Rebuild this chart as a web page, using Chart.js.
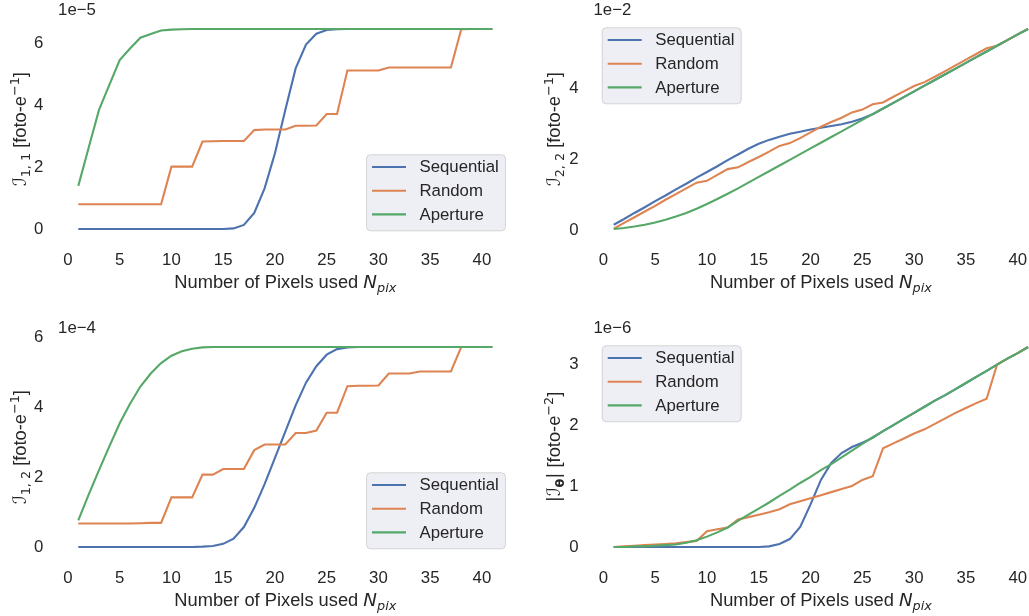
<!DOCTYPE html>
<html><head><meta charset="utf-8">
<script src="https://cdn.jsdelivr.net/npm/chart.js@4.4.1/dist/chart.umd.min.js"></script>
<style>
html,body{margin:0;padding:0;width:1029px;height:616px;overflow:hidden;background:#fff;}
canvas{position:absolute;}
</style></head><body>
<canvas id="c1"></canvas><canvas id="c2"></canvas><canvas id="c3"></canvas><canvas id="c4"></canvas>
<script>
// ---------------- data ----------------
const nPix = [1,2,3,4,5,6,7,8,9,10,11,12,13,14,15,16,17,18,19,20,21,22,23,24,25,26,27,28,29,30,31,32,33,34,35,36,37,38,39,40,41];
const xTicks = [0,5,10,15,20,25,30,35,40];
const seriesNames = ['Sequential','Random','Aperture'];

// I_{1,1}  (x 1e-5)
const seq11 = [0,0,0,0,0,0,0,0,0,0,0,0,0,0,0,0.02,0.13,0.52,1.31,2.44,3.84,5.18,5.95,6.30,6.42,6.44,6.45,6.45,6.45,6.45,6.45,6.45,6.45,6.45,6.45,6.45,6.45,6.45,6.45,6.45,6.45];
const rnd11 = [0.80,0.80,0.80,0.80,0.80,0.80,0.80,0.80,0.80,2.01,2.01,2.01,2.82,2.83,2.84,2.84,2.84,3.19,3.21,3.21,3.21,3.33,3.33,3.34,3.71,3.71,5.11,5.11,5.11,5.11,5.21,5.21,5.21,5.21,5.21,5.21,5.21,6.44,6.45,6.45,6.45];
const ape11 = [1.39,2.62,3.84,4.65,5.45,5.82,6.17,6.29,6.40,6.43,6.44,6.45,6.45,6.45,6.45,6.45,6.45,6.45,6.45,6.45,6.45,6.45,6.45,6.45,6.45,6.45,6.45,6.45,6.45,6.45,6.45,6.45,6.45,6.45,6.45,6.45,6.45,6.45,6.45,6.45,6.45];
const yTicks11 = [0,2,4,6];

// I_{2,2}  (x 1e-2)
const seq22 = [0.17,0.33,0.50,0.66,0.83,0.99,1.16,1.32,1.49,1.65,1.81,1.98,2.14,2.30,2.44,2.55,2.64,2.72,2.78,2.84,2.89,2.94,2.99,3.06,3.15,3.27,3.43,3.59,3.75,3.91,4.07,4.23,4.39,4.55,4.71,4.87,5.03,5.19,5.35,5.51,5.66];
const rnd22 = [0.06,0.22,0.38,0.54,0.70,0.87,1.03,1.19,1.35,1.40,1.57,1.73,1.78,1.93,2.07,2.22,2.38,2.46,2.60,2.76,2.92,3.05,3.17,3.32,3.40,3.55,3.60,3.76,3.91,4.06,4.17,4.32,4.48,4.64,4.80,4.96,5.12,5.19,5.35,5.51,5.66];
const ape22 = [0.05,0.08,0.12,0.17,0.23,0.31,0.40,0.50,0.62,0.75,0.89,1.04,1.19,1.35,1.51,1.67,1.83,1.99,2.15,2.31,2.47,2.63,2.79,2.95,3.11,3.27,3.43,3.59,3.75,3.91,4.07,4.23,4.39,4.55,4.71,4.87,5.03,5.19,5.35,5.51,5.66];
const yTicks22 = [0,2,4];

// I_{1,2}  (x 1e-4)
const seq12 = [0,0,0,0,0,0,0,0,0,0,0,0,0.01,0.03,0.09,0.24,0.57,1.12,1.80,2.55,3.30,4.05,4.70,5.17,5.50,5.66,5.71,5.72,5.72,5.72,5.72,5.72,5.72,5.72,5.72,5.72,5.72,5.72,5.72,5.72,5.72];
const rnd12 = [0.67,0.67,0.67,0.67,0.67,0.67,0.68,0.69,0.69,1.42,1.42,1.42,2.07,2.07,2.23,2.23,2.23,2.77,2.93,2.93,2.93,3.26,3.26,3.33,3.84,3.84,4.60,4.61,4.61,4.62,4.96,4.96,4.96,5.02,5.02,5.02,5.02,5.72,5.72,5.72,5.72];
const ape12 = [0.76,1.50,2.20,2.88,3.54,4.10,4.59,4.96,5.26,5.47,5.60,5.67,5.71,5.72,5.72,5.72,5.72,5.72,5.72,5.72,5.72,5.72,5.72,5.72,5.72,5.72,5.72,5.72,5.72,5.72,5.72,5.72,5.72,5.72,5.72,5.72,5.72,5.72,5.72,5.72,5.72];
const yTicks12 = [0,2,4,6];

// |I_theta|  (x 1e-6)
const seqT = [0,0,0,0,0,0,0,0,0,0,0,0,0,0,0,0.01,0.05,0.13,0.33,0.70,1.10,1.38,1.54,1.64,1.71,1.79,1.90,2.00,2.10,2.20,2.30,2.40,2.49,2.59,2.69,2.79,2.89,2.99,3.09,3.18,3.28];
const rndT = [0.00,0.01,0.02,0.03,0.04,0.05,0.06,0.08,0.10,0.26,0.29,0.32,0.45,0.49,0.53,0.57,0.62,0.70,0.75,0.80,0.85,0.90,0.95,1.00,1.10,1.16,1.62,1.70,1.78,1.86,1.93,2.02,2.11,2.20,2.28,2.36,2.43,2.99,3.09,3.18,3.28];
const apeT = [0.00,0.00,0.01,0.01,0.02,0.03,0.04,0.07,0.11,0.17,0.24,0.32,0.43,0.53,0.63,0.73,0.84,0.94,1.05,1.15,1.26,1.36,1.47,1.58,1.69,1.80,1.90,2.00,2.10,2.20,2.30,2.40,2.49,2.59,2.69,2.79,2.89,2.99,3.09,3.18,3.28];
const yTicksT = [0,1,2,3];

// ---------------- text ----------------
const FONT = "'Liberation Sans', Arial, sans-serif";
const MATH = "'DejaVu Sans', sans-serif";
const TXT = '#262626';
const COLORS = ['#4C72B0', '#DD8452', '#55A868'];
const TICK = 16.8, LBL = 18.3, SUB = 12.8;

const xTitle = [
  {t:'Number of Pixels used ', s:LBL},
  {t:'N', s:LBL, f:MATH, st:'italic'},
  {t:'pix', s:SUB, f:MATH, st:'italic', dy:4}
];
function ijTitle(sub, sup){
  return [
    {t:'\u2110', s:LBL, f:MATH, st:'italic'},
    {t:sub, s:SUB, f:MATH, dy:4},
    {t:' [foto-e', s:LBL},
    {t:sup, s:SUB, f:MATH, dy:-7},
    {t:']', s:LBL}
  ];
}
const title11 = ijTitle('1, 1', '\u22121');
const title22 = ijTitle('2, 2', '\u22121');
const title12 = ijTitle('1, 2', '\u22121');
const titleT = [
  {t:'|', s:LBL, f:MATH},
  {t:'\u2110', s:LBL, f:MATH, st:'italic'},
  {t:'\u03B8', s:SUB, f:MATH, w:'bold', dy:4},
  {t:'|', s:LBL, f:MATH},
  {t:' [foto-e', s:LBL},
  {t:'\u22122', s:SUB, f:MATH, dy:-7},
  {t:']', s:LBL}
];

const panels = [
  {id:'c1', left:0,   top:0,   w:520, h:300, area:{l:57.6, t:19, r:513,   b:239}, data:[seq11,rnd11,ape11], yTicks:yTicks11, offset:'1e\u22125', yTitle:title11, titleX:26, legend:'lr'},
  {id:'c2', left:520, top:0,   w:540, h:300, area:{l:73,   t:19, r:528.8, b:239}, data:[seq22,rnd22,ape22], yTicks:yTicks22, offset:'1e\u22122', yTitle:title22, titleX:40, legend:'ul'},
  {id:'c3', left:0,   top:300, w:520, h:316, area:{l:57.6, t:37, r:513,   b:257}, data:[seq12,rnd12,ape12], yTicks:yTicks12, offset:'1e\u22124', yTitle:title12, titleX:26, legend:'lr'},
  {id:'c4', left:520, top:300, w:540, h:316, area:{l:73,   t:37, r:528.8, b:257}, data:[seqT,rndT,apeT],    yTicks:yTicksT,  offset:'1e\u22126', yTitle:titleT,  titleX:40, legend:'ul'}
];
const byId = {};
panels.forEach(p => byId[p.id] = p);

function fontStr(s){ return `${s.st||'normal'} ${s.w||'normal'} ${s.s}px ${s.f||FONT}`; }
function drawRich(ctx, segs, x, y, rot){
  ctx.save();
  ctx.translate(x, y);
  if (rot) ctx.rotate(-Math.PI/2);
  ctx.textBaseline = 'alphabetic'; ctx.textAlign = 'left'; ctx.fillStyle = TXT;
  let tot = 0;
  const ws = segs.map(s => { ctx.font = fontStr(s); const w = ctx.measureText(s.t).width; tot += w; return w; });
  let cx = -tot/2;
  segs.forEach((s,i) => { ctx.font = fontStr(s); ctx.fillText(s.t, cx, s.dy||0); cx += ws[i]; });
  ctx.restore();
}
function roundRect(ctx, x, y, w, h, r){
  ctx.beginPath();
  ctx.moveTo(x+r, y); ctx.lineTo(x+w-r, y); ctx.arcTo(x+w, y, x+w, y+r, r);
  ctx.lineTo(x+w, y+h-r); ctx.arcTo(x+w, y+h, x+w-r, y+h, r);
  ctx.lineTo(x+r, y+h); ctx.arcTo(x, y+h, x, y+h-r, r);
  ctx.lineTo(x, y+r); ctx.arcTo(x, y, x+r, y, r);
  ctx.closePath();
}

const deco = {
  id: 'deco',
  afterDraw(chart){
    const p = byId[chart.canvas.id]; if (!p) return;
    const ctx = chart.ctx, a = chart.chartArea;
    drawRich(ctx, xTitle, (a.left + a.right)/2, a.bottom + 49.3, false);
    drawRich(ctx, p.yTitle, p.titleX, (a.top + a.bottom)/2, true);
    ctx.save();
    ctx.font = `${TICK}px ${FONT}`; ctx.fillStyle = TXT; ctx.textAlign = 'left'; ctx.textBaseline = 'alphabetic';
    ctx.fillText(p.offset, a.left + 0.5, a.top - 4.5);
    ctx.restore();
    const W = 139, H = 76;
    let bx, by;
    if (p.legend === 'lr') { bx = a.right - 8 - W; by = a.bottom - 8.7 - H; }
    else { bx = a.left + 8.7; by = a.top + 8.3; }
    ctx.save();
    roundRect(ctx, bx + 0.5, by + 0.5, W, H, 4);
    ctx.fillStyle = 'rgba(234,234,242,0.8)'; ctx.fill();
    ctx.strokeStyle = 'rgba(204,204,204,0.8)'; ctx.lineWidth = 1; ctx.stroke();
    chart.data.datasets.forEach((ds, i) => {
      const yy = by + 12.7 + i*23.7;
      ctx.beginPath(); ctx.moveTo(bx + 6, yy); ctx.lineTo(bx + 40, yy);
      ctx.strokeStyle = ds.borderColor; ctx.lineWidth = 2.1; ctx.stroke();
      ctx.font = `${TICK}px ${FONT}`; ctx.fillStyle = TXT; ctx.textBaseline = 'middle'; ctx.textAlign = 'left';
      ctx.fillText(ds.label, bx + 53.5, yy + 0.5);
    });
    ctx.restore();
  }
};

function limits(arrs){
  let mn = Infinity, mx = -Infinity;
  arrs.forEach(a => a.forEach(v => { mn = Math.min(mn, v); mx = Math.max(mx, v); }));
  const m = 0.05*(mx - mn);
  return [mn - m, mx + m];
}
const xLim = limits([nPix]);

panels.forEach(p => {
  const cv = document.getElementById(p.id);
  cv.width = p.w; cv.height = p.h;
  cv.style.left = p.left + 'px'; cv.style.top = p.top + 'px';
  cv.style.width = p.w + 'px'; cv.style.height = p.h + 'px';
  const yLim = limits(p.data);
  new Chart(cv, {
    type: 'line',
    data: {
      datasets: p.data.map((arr, i) => ({
        label: seriesNames[i],
        data: nPix.map((x, k) => ({x: x, y: arr[k]})),
        borderColor: COLORS[i], backgroundColor: COLORS[i],
        borderWidth: 2.1, pointRadius: 0, tension: 0, fill: false,
        order: 2 - i
      }))
    },
    options: {
      responsive: false, animation: false, devicePixelRatio: 1,
      events: [],
      layout: { padding: { left: 0, top: p.area.t, right: p.w - p.area.r, bottom: 0 } },
      plugins: { legend: { display: false }, tooltip: { enabled: false } },
      scales: {
        x: {
          type: 'linear', min: xLim[0], max: xLim[1],
          grid: { display: false, drawTicks: false }, border: { display: false },
          ticks: { color: TXT, font: { size: TICK, family: FONT }, padding: 11, autoSkip: false, maxRotation: 0, callback: v => String(v) },
          afterBuildTicks: s => { s.ticks = xTicks.map(v => ({ value: v })); },
          afterFit: s => { s.height = p.h - p.area.b; s.paddingLeft = 0; s.paddingRight = 0; s.paddingTop = 0; s.paddingBottom = 0; }
        },
        y: {
          type: 'linear', min: yLim[0], max: yLim[1],
          grid: { display: false, drawTicks: false }, border: { display: false },
          ticks: { color: TXT, font: { size: TICK, family: FONT }, padding: 14.3, callback: v => String(v) },
          afterBuildTicks: s => { s.ticks = p.yTicks.map(v => ({ value: v })); },
          afterFit: s => { s.width = p.area.l; s.paddingTop = 0; s.paddingBottom = 0; s.paddingLeft = 0; s.paddingRight = 0; }
        }
      }
    },
    plugins: [deco]
  });
});
</script>
</body></html>
